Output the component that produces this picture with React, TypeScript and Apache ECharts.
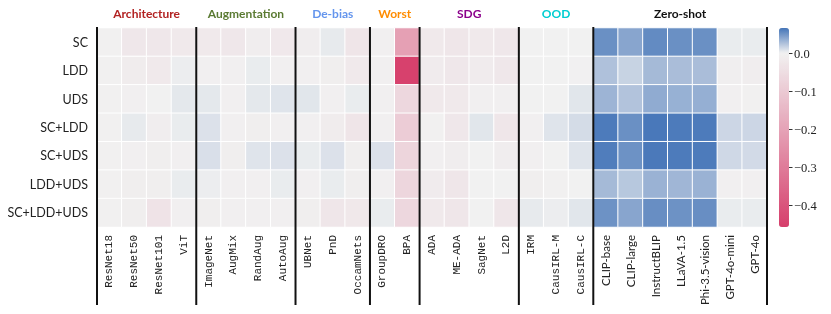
import React, { useEffect, useRef } from 'react';
import * as echarts from 'echarts';

const methods = [
  'ResNet18', 'ResNet50', 'ResNet101', 'ViT',
  'ImageNet', 'AugMix', 'RandAug', 'AutoAug',
  'UBNet', 'PnD', 'OccamNets',
  'GroupDRO', 'BPA',
  'ADA', 'ME-ADA', 'SagNet', 'L2D',
  'IRM', 'CausIRL-M', 'CausIRL-C',
  'CLIP-base', 'CLIP-large', 'InstructBLIP', 'LLaVA-1.5', 'Phi-3.5-vision', 'GPT-4o-mini', 'GPT-4o',
];
const groupNames = ['Architecture', 'Augmentation', 'De-bias', 'Worst', 'SDG', 'OOD', 'Zero-shot'];
const groupSizes = [4, 4, 3, 2, 4, 3, 7];
const groupColors = ['#b22222', '#5a7a32', '#6495ed', '#ff8c00', '#8b008b', '#00ced1', '#111111'];
const rowLabels = ['SC', 'LDD', 'UDS', 'SC+LDD', 'SC+UDS', 'LDD+UDS', 'SC+LDD+UDS'];

const valsSC = [-0.003, -0.025, -0.025, -0.02, -0.02, -0.025, -0.01, -0.022, -0.01, 0.004, -0.03, -0.005, -0.207, -0.02, -0.028, -0.02, -0.025, 0, 0, 0, 0.051, 0.040, 0.054, 0.051, 0.051, 0.003, 0.003];
const valsLDD = [-0.003, -0.012, -0.02, 0.002, -0.004, -0.004, 0.003, -0.004, -0.004, -0.008, -0.02, -0.004, -0.45, -0.015, -0.025, -0.015, -0.025, 0, 0, -0.002, 0.025, 0.016, 0.029, 0.027, 0.027, -0.007, -0.01];
const valsUDS = [-0.003, -0.005, 0, 0.005, 0.005, -0.004, 0.005, 0.007, 0.006, -0.004, 0.003, -0.004, -0.066, -0.02, -0.02, -0.005, -0.005, 0, 0, 0.006, 0.032, 0.024, 0.037, 0.034, 0.035, -0.004, -0.003];
const valsSCLDD = [-0.003, 0.004, -0.01, 0.003, 0.008, -0.004, -0.008, -0.004, -0.004, -0.012, -0.03, -0.004, -0.093, -0.003, -0.025, 0.006, -0.028, -0.004, 0.007, 0.011, 0.062, 0.051, 0.0636, 0.062, 0.062, 0.014, 0.014];
const valsSCUDS = [-0.003, -0.004, -0.008, -0.004, 0.009, -0.008, 0.007, 0.008, 0.003, 0.008, -0.008, 0.008, -0.071, -0.004, -0.01, 0, -0.01, -0.004, 0, 0.007, 0.061, 0.050, 0.063, 0.062, 0.062, 0.013, 0.012];
const valsLDDUDS = [-0.003, -0.008, -0.008, 0.003, 0.002, -0.004, -0.004, 0.003, -0.004, 0.003, -0.009, -0.004, -0.07, -0.015, -0.028, 0, 0, -0.008, -0.003, 0, 0.029, 0.022, 0.033, 0.031, 0.033, -0.005, -0.004];
const valsSCLDDUDS = [-0.003, -0.008, -0.035, -0.005, -0.008, -0.004, -0.004, -0.004, -0.008, -0.028, -0.023, 0.003, -0.066, -0.02, -0.028, 0, -0.028, 0.004, 0.002, 0.006, 0.050, 0.040, 0.052, 0.050, 0.052, 0.003, 0.003];
const rows = [valsSC, valsLDD, valsUDS, valsSCLDD, valsSCUDS, valsLDDUDS, valsSCLDDUDS];

const colorbarTicks = [0, -0.1, -0.2, -0.3, -0.4];
const VMIN = -0.457;
const VMAX = 0.0653;
const ZERO_SHOT_START = 20;

const RED = [214, 62, 107];
const MID = [241, 241, 241];
const BLUE = [69, 117, 184];

function buildStops(n: number): string[] {
  const out: string[] = [];
  for (let i = 0; i <= n; i++) {
    const v = VMIN + ((VMAX - VMIN) * i) / n;
    let b: number[], t: number;
    if (v < 0) { b = RED; t = v / VMIN; } else { b = BLUE; t = v / VMAX; }
    const c = MID.map((x, k) => Math.round(x + (b[k] - x) * t));
    out.push(`rgb(${c[0]},${c[1]},${c[2]})`);
  }
  return out;
}

export default function App() {
  const ref = useRef<HTMLDivElement>(null);
  useEffect(() => {
    if (!ref.current) return;
    const chart = echarts.init(ref.current, null, { renderer: 'svg' });
    const data: number[][] = [];
    rows.forEach((row, r) => row.forEach((v, c) => data.push([c, r, v])));
    const fmt = (v: number) => (Math.abs(v) < 1e-9 ? '0.0' : '\u2212' + Math.abs(v).toFixed(1));
    chart.setOption({
      animation: false,
      grid: [
        { left: 97, top: 28, width: 670, height: 199 },
        { left: 779, top: 28, width: 10, height: 199 },
      ],
      xAxis: [
        {
          type: 'category', data: methods, gridIndex: 0,
          axisLine: { show: false }, axisTick: { show: false }, splitLine: { show: false },
          axisLabel: {
            rotate: 90, margin: 8, interval: 0,
            formatter: (v: string, i: number) => (i >= ZERO_SHOT_START ? `{s|${v}}` : `{m|${v}}`),
            rich: {
              m: { fontFamily: 'Liberation Mono', fontSize: 11, color: '#222' },
              s: { fontFamily: 'Lato', fontSize: 11.5, color: '#222' },
            },
          },
        },
        { type: 'value', gridIndex: 1, show: false, min: 0, max: 1 },
      ],
      yAxis: [
        {
          type: 'category', data: rowLabels, inverse: true, gridIndex: 0,
          axisLine: { show: false }, axisTick: { show: false }, splitLine: { show: false },
          axisLabel: { margin: 9, fontFamily: 'Lato', fontSize: 12.5, color: '#222' },
        },
        {
          type: 'value', gridIndex: 1, min: VMIN, max: VMAX, position: 'right',
          axisLine: { show: false }, splitLine: { show: false },
          axisTick: { show: false }, axisLabel: { show: false },
        },
      ],
      visualMap: {
        type: 'continuous', min: VMIN, max: VMAX, dimension: 2, seriesIndex: 0,
        orient: 'vertical', left: 779, top: 28, itemWidth: 10, itemHeight: 199, padding: 0,
        calculable: false, hoverLink: false,
        inRange: { color: buildStops(120) },
      },
      series: [
        {
          type: 'heatmap', xAxisIndex: 0, yAxisIndex: 0, data,
          itemStyle: { borderColor: '#fff', borderWidth: 1 },
          emphasis: { disabled: true },
        },
      ],
    });

    const px = (i: number) => chart.convertToPixel({ xAxisIndex: 0 }, i) as number;
    const py = (i: number) => chart.convertToPixel({ yAxisIndex: 0 }, i) as number;
    const cw = px(1) - px(0);
    const ch = py(1) - py(0);
    const edge = (k: number) => px(0) + (k - 0.5) * cw;
    const top = py(0) - ch / 2 - 1;
    const bottom = 305;
    const bounds = [0];
    groupSizes.forEach((s) => bounds.push(bounds[bounds.length - 1] + s));
    const graphics: any[] = [];
    bounds.forEach((b) => {
      const x = edge(b);
      graphics.push({ type: 'line', shape: { x1: x, y1: top, x2: x, y2: bottom }, style: { stroke: '#111', lineWidth: 2 }, z: 10 });
    });
    groupNames.forEach((name, g) => {
      const cx = (edge(bounds[g]) + edge(bounds[g + 1])) / 2;
      graphics.push({
        type: 'text', x: cx, y: 13, z: 10,
        style: { text: name, fill: groupColors[g], fontFamily: 'Lato', fontWeight: 'bold', fontSize: 12, align: 'center', verticalAlign: 'middle' },
      });
    });
    // colorbar ticks and labels, positioned through the colorbar's value axis
    const barRight = chart.convertToPixel({ xAxisIndex: 1 }, 1) as number;
    colorbarTicks.forEach((v) => {
      const y = Math.round(chart.convertToPixel({ yAxisIndex: 1 }, v) as number) + 0.5;
      graphics.push({ type: 'line', shape: { x1: barRight, y1: y, x2: barRight + 3.5, y2: y }, style: { stroke: '#333', lineWidth: 1 }, z: 10 });
      graphics.push({
        type: 'text', x: barRight + 5, y, z: 10,
        style: { text: fmt(v), fill: '#222', fontFamily: 'Liberation Serif', fontSize: 12.5, align: 'left', verticalAlign: 'middle' },
      });
    });
    chart.setOption({ graphic: graphics });
    return () => chart.dispose();
  }, []);
  return <div ref={ref} style={{ position: 'fixed', left: 0, top: 0, width: 831, height: 314 }} />;
}
